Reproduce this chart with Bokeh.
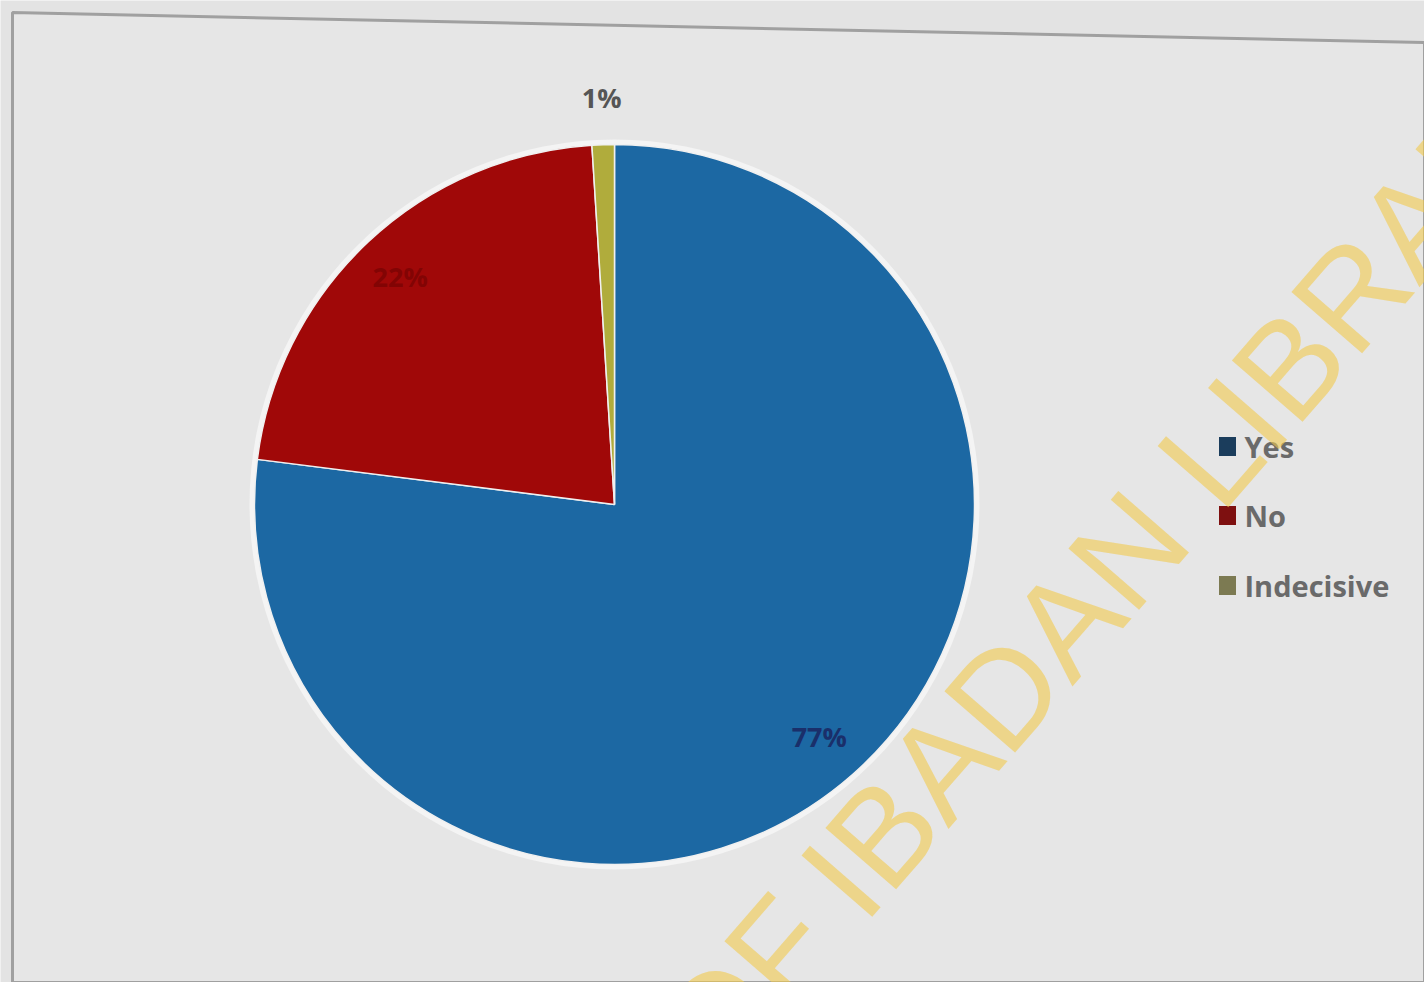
import math
from bokeh.plotting import figure
from bokeh.models import Range1d, ColumnDataSource
from bokeh.core.properties import value
from bokeh.embed import file_html
from bokeh.resources import INLINE

# ---- data ----
categories = ["Yes", "No", "Indecisive"]
shares = [77, 22, 1]
labels = ["77%", "22%", "1%"]
colors = ["#1c68a3", "#a00808", "#b0ac3c"]
legend_colors = ["#1b3d5c", "#7e1010", "#7c7a52"]
label_colors = ["#1a2f6a", "#820404", "#555555"]

W, H = 1424, 982
cx, cy, r = 614, H - 504, 360

p = figure(width=W, height=H, output_backend="svg", toolbar_location=None,
           x_range=Range1d(0, W), y_range=Range1d(0, H), min_border=0)
p.axis.visible = False
p.grid.visible = False
p.outline_line_color = None
p.background_fill_color = "#e3e3e3"
p.border_fill_color = "#e3e3e3"

# photo frame
p.patch([12, W, W, 12], [H - 12, H - 42, 0, 0], fill_color="#e6e6e6",
        line_color="#a0a0a0", line_width=3)

total = sum(shares)
starts, ends, cum = [], [], 0
for s in shares:
    starts.append(math.pi / 2 - 2 * math.pi * cum / total)
    cum += s
    ends.append(math.pi / 2 - 2 * math.pi * cum / total)

src = ColumnDataSource(dict(start=starts, end=ends, color=colors, cat=categories))
p.circle(x=[cx], y=[cy], radius=r + 5, fill_color="#f4f4f4", line_color=None)
p.wedge(x=cx, y=cy, radius=r, start_angle="start", end_angle="end",
        direction="clock", fill_color="color", line_color="#f0f0f0",
        line_width=1.5, source=src)

# data labels
mids = [(a + b) / 2 for a, b in zip(starts, ends)]
lx, ly = [], []
for i, m in enumerate(mids):
    rr = [0.86, 0.87, 1.13][i]
    lx.append(cx + rr * r * math.cos(m))
    ly.append(cy + rr * r * math.sin(m))
p.text(x=lx, y=ly, text=labels, text_color=label_colors,
       text_font=value("Open Sans"), text_font_style="bold", text_font_size="27px",
       text_align="center", text_baseline="middle")

# legend
ly0 = [H - 446, H - 515, H - 585]
p.rect(x=[1227] * 3, y=ly0, width=17, height=19, fill_color=legend_colors, line_color=None)
p.text(x=[1244] * 3, y=ly0, text=categories, text_color="#6a6a6a",
       text_font=value("Open Sans"), text_font_style="bold", text_font_size="29px",
       text_baseline="middle")

# watermark
p.text(x=[828], y=[H - 895], text=["IBADAN LIBRARY"], angle=math.radians(49),
       text_color="#f2c94c", text_alpha=0.6,
       text_font=value("Liberation Sans"), text_font_size="136px",
       text_baseline="alphabetic")
p.text(x=[808], y=[H - 915], text=["UNIVERSITY OF"], angle=math.radians(49),
       text_color="#f2c94c", text_alpha=0.6,
       text_font=value("Liberation Sans"), text_font_size="136px",
       text_align="right", text_baseline="alphabetic")

open("out.html", "w").write(file_html(p, INLINE))
